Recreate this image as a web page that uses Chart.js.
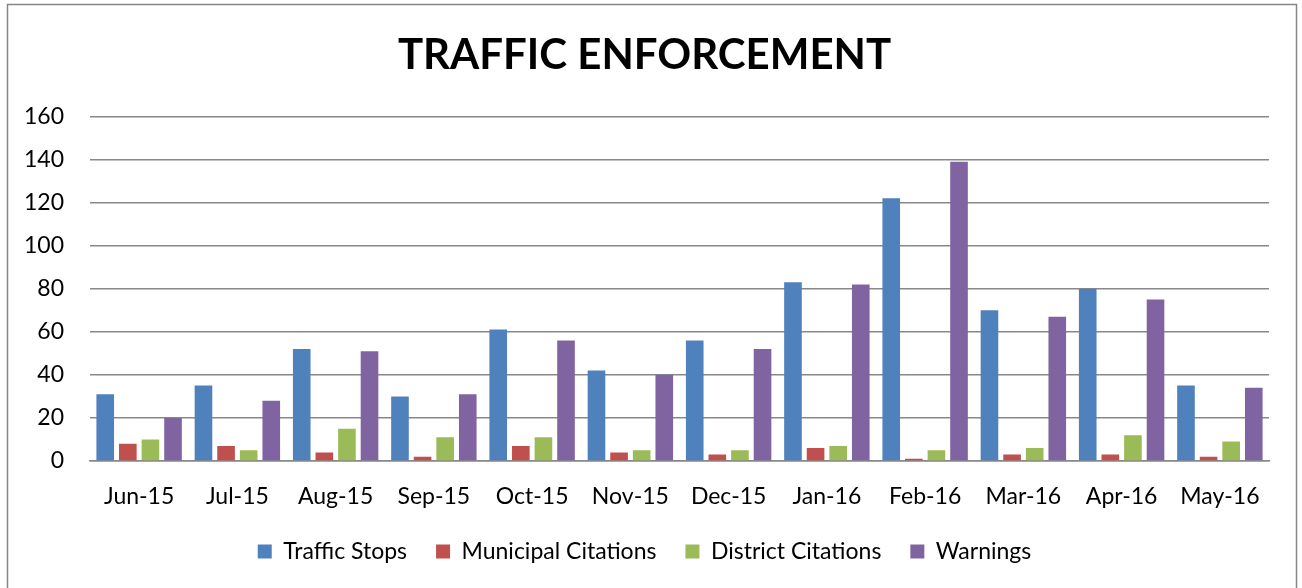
<!DOCTYPE html>
<html>
<head>
<meta charset="utf-8">
<script src="https://cdn.jsdelivr.net/npm/chart.js@4/dist/chart.umd.min.js"></script>
<style>
    html, body { margin: 0; padding: 0; background: #fff; overflow: hidden; }
    #wrap { position: absolute; left: 0; top: 0; width: 1302px; height: 588px; }
</style>
</head>
<body>
<div id="wrap"><canvas id="trafficChart"></canvas></div>
<script>
const months = ['Jun-15', 'Jul-15', 'Aug-15', 'Sep-15', 'Oct-15', 'Nov-15', 'Dec-15', 'Jan-16', 'Feb-16', 'Mar-16', 'Apr-16', 'May-16'];
const trafficStops = [31, 35, 52, 30, 61, 42, 56, 83, 122, 70, 80, 35];
const municipalCitations = [8, 7, 4, 2, 7, 4, 3, 6, 1, 3, 3, 2];
const districtCitations = [10, 5, 15, 11, 11, 5, 5, 7, 5, 6, 12, 9];
const warnings = [20, 28, 51, 31, 56, 40, 52, 82, 139, 67, 75, 34];
const yTicks = [0, 20, 40, 60, 80, 100, 120, 140, 160];

const fontFamily = 'Lato, "Open Sans", sans-serif';
const labelSize = 23;

// outer frame like the spreadsheet chart border
const frame = {
    id: 'frame',
    beforeDraw: function(chart) {
        const ctx = chart.ctx;
        ctx.save();
        ctx.fillStyle = '#fff';
        ctx.fillRect(0, 0, chart.width, chart.height);
        ctx.strokeStyle = '#868686';
        ctx.lineWidth = 1.5;
        ctx.strokeRect(7.5, 4.5, 1289, 600);
        ctx.restore();
    }
};

function series(label, data, color) {
    return {
        label: label,
        data: data,
        backgroundColor: color,
        borderWidth: 0,
        categoryPercentage: 0.92,
        barPercentage: 0.78
    };
}

const ctx = document.getElementById('trafficChart').getContext('2d');
new Chart(ctx, {
    type: 'bar',
    data: {
        labels: months,
        datasets: [
            series('Traffic Stops', trafficStops, '#4F81BD'),
            series('Municipal Citations', municipalCitations, '#C0504D'),
            series('District Citations', districtCitations, '#9BBB59'),
            series('Warnings', warnings, '#8064A2')
        ]
    },
    options: {
        responsive: true,
        maintainAspectRatio: false,
        animation: false,
        layout: {
            padding: { left: 20, right: 33, top: 0, bottom: 15 }
        },
        plugins: {
            title: {
                display: true,
                text: 'TRAFFIC ENFORCEMENT',
                color: '#000',
                font: { family: fontFamily, size: 42, weight: 'bold', lineHeight: 1.2 },
                padding: { top: 30, bottom: 36 }
            },
            legend: {
                position: 'bottom',
                labels: {
                    color: '#000',
                    font: { family: fontFamily, size: labelSize },
                    boxWidth: 14,
                    boxHeight: 14,
                    padding: 29
                }
            },
            tooltip: { enabled: false }
        },
        scales: {
            x: {
                afterFit: function(scale) { scale.height = 50; },
                grid: { display: false, drawTicks: false },
                border: { display: true, color: '#888', width: 1.5 },
                ticks: {
                    color: '#000',
                    font: { family: fontFamily, size: labelSize },
                    padding: 22,
                    maxRotation: 0
                }
            },
            y: {
                min: 0,
                max: 160,
                afterFit: function(scale) { scale.width = 70; },
                afterBuildTicks: function(scale) {
                    scale.ticks = yTicks.map(function(v) { return { value: v }; });
                },
                grid: { color: '#888', lineWidth: 1.5, drawTicks: false },
                border: { display: false },
                ticks: {
                    color: '#000',
                    font: { family: fontFamily, size: labelSize },
                    padding: 26
                }
            }
        }
    },
    plugins: [frame]
});
</script>
</body>
</html>
